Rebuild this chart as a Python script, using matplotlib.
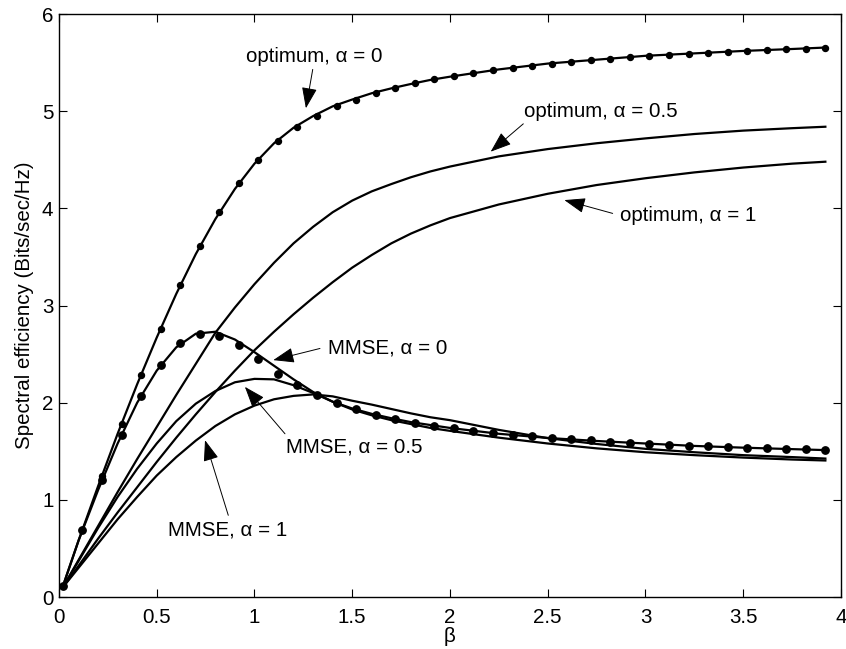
import matplotlib
matplotlib.use("Agg")
import matplotlib.pyplot as plt

plt.rcParams['font.family'] = ['Liberation Sans', 'DejaVu Sans']

# grid used for the analytical curves
beta_line = [0.02, 0.1, 0.2, 0.3, 0.4, 0.5, 0.6, 0.7, 0.8, 0.9, 1.0, 1.1, 1.2,
             1.3, 1.4, 1.5, 1.6, 1.7, 1.8, 1.9, 2.0, 2.25, 2.5, 2.75, 3.0,
             3.25, 3.5, 3.75, 3.92]

opt_a0 = [0.11, 0.58, 1.14, 1.68, 2.19, 2.67, 3.12, 3.53, 3.89, 4.20, 4.46,
          4.67, 4.83, 4.95, 5.05, 5.12, 5.185, 5.235, 5.28, 5.322, 5.355,
          5.43, 5.49, 5.53, 5.57, 5.595, 5.62, 5.64, 5.655]
opt_a05 = [0.1, 0.38, 0.73, 1.08, 1.42, 1.75, 2.08, 2.40, 2.72, 2.98, 3.22,
           3.44, 3.64, 3.81, 3.96, 4.08, 4.175, 4.25, 4.32, 4.38, 4.43,
           4.535, 4.61, 4.67, 4.72, 4.765, 4.80, 4.825, 4.84]
opt_a1 = [0.1, 0.32, 0.60, 0.87, 1.13, 1.39, 1.64, 1.88, 2.11, 2.33, 2.54,
          2.73, 2.91, 3.08, 3.24, 3.39, 3.52, 3.64, 3.74, 3.825, 3.90,
          4.04, 4.15, 4.24, 4.31, 4.37, 4.42, 4.46, 4.48]
mmse_a0 = [0.11, 0.58, 1.10, 1.58, 2.00, 2.33, 2.57, 2.71, 2.73, 2.65, 2.52,
           2.38, 2.24, 2.11, 2.01, 1.94, 1.885, 1.84, 1.80, 1.77, 1.74,
           1.68, 1.637, 1.606, 1.58, 1.555, 1.537, 1.522, 1.512]
mmse_a05 = [0.1, 0.37, 0.71, 1.03, 1.32, 1.58, 1.81, 1.99, 2.12, 2.21, 2.245,
            2.24, 2.18, 2.10, 2.01, 1.93, 1.87, 1.82, 1.78, 1.74, 1.71,
            1.64, 1.58, 1.53, 1.49, 1.46, 1.435, 1.415, 1.405]
mmse_a1 = [0.1, 0.30, 0.55, 0.80, 1.03, 1.25, 1.44, 1.61, 1.76, 1.88, 1.97,
           2.035, 2.07, 2.085, 2.065, 2.02, 1.98, 1.935, 1.89, 1.85, 1.82,
           1.72, 1.635, 1.575, 1.525, 1.49, 1.46, 1.44, 1.425]

# simulated points (alpha = 0)
beta_sim = [0.02 + 0.1 * k for k in range(40)]
opt_sim = [0.11, 0.69, 1.25, 1.78, 2.29, 2.76, 3.21, 3.61, 3.96, 4.26,
           4.50, 4.69, 4.84, 4.95, 5.05, 5.12, 5.19, 5.24, 5.29, 5.33,
           5.36, 5.39, 5.42, 5.445, 5.47, 5.49, 5.51, 5.525, 5.54, 5.555,
           5.57, 5.58, 5.59, 5.60, 5.61, 5.62, 5.63, 5.637, 5.645, 5.655]
mmse_sim = [0.11, 0.69, 1.20, 1.67, 2.07, 2.39, 2.61, 2.71, 2.69, 2.59,
            2.445, 2.30, 2.18, 2.08, 2.00, 1.93, 1.875, 1.833, 1.796, 1.765,
            1.735, 1.71, 1.69, 1.668, 1.652, 1.636, 1.622, 1.611, 1.600, 1.590,
            1.578, 1.567, 1.559, 1.550, 1.543, 1.537, 1.530, 1.524, 1.519, 1.514]

# annotations: text, text position, arrow tip
notes = [
    ("optimum, \u03b1 = 0", (1.304, 5.56), (1.263, 5.03)),
    ("optimum, \u03b1 = 0.5", (2.77, 4.995), (2.208, 4.583)),
    ("optimum, \u03b1 = 1", (3.216, 3.93), (2.585, 4.085)),
    ("MMSE, \u03b1 = 0", (1.68, 2.558), (1.096, 2.438)),
    ("MMSE, \u03b1 = 0.5", (1.509, 1.545), (0.951, 2.163)),
    ("MMSE, \u03b1 = 1", (0.862, 0.687), (0.747, 1.614)),
]
# where the arrow leaves the text
tails = [(1.298, 5.43), (2.375, 4.87), (2.832, 3.948), (1.335, 2.558),
         (1.156, 1.68), (0.866, 0.841)]

fs = 14.8

fig = plt.figure(figsize=(8.46, 6.49), dpi=100)
ax = fig.add_axes([0.0697, 0.0801, 0.9244, 0.8983])

lw = 1.6
for ys in (opt_a0, opt_a05, opt_a1, mmse_a0, mmse_a05, mmse_a1):
    ax.plot(beta_line, ys, color='k', lw=lw)
ax.plot(beta_sim, opt_sim, 'o', color='k', ms=4.3)
ax.plot(beta_sim, mmse_sim, 'o', color='k', ms=5.3)

for (txt, pos, tip), tail in zip(notes, tails):
    ax.text(pos[0], pos[1], txt, ha='center', va='center', fontsize=fs)
    ax.annotate('', xy=tip, xytext=tail,
                arrowprops=dict(arrowstyle='-|>,head_length=0.93,head_width=0.34',
                                color='k', lw=0.7, shrinkA=0, shrinkB=0,
                                mutation_scale=14))

ax.set_xlim(0, 4)
ax.set_ylim(0, 6)
ax.set_xticks([0, 0.5, 1, 1.5, 2, 2.5, 3, 3.5, 4])
ax.set_xticklabels(['0', '0.5', '1', '1.5', '2', '2.5', '3', '3.5', '4'])
ax.set_yticks(range(7))
ax.tick_params(direction='in', top=True, right=True, length=6, width=0.8,
               labelsize=fs)
ax.tick_params(axis='x', pad=8)
ax.tick_params(axis='y', pad=4)
for s in ax.spines.values():
    s.set_linewidth(1.0)
ax.set_xlabel('\u03b2', fontsize=fs, labelpad=0)
ax.set_ylabel('Spectral efficiency (Bits/sec/Hz)', fontsize=fs, labelpad=6)

fig.savefig('out.png', dpi=100)
